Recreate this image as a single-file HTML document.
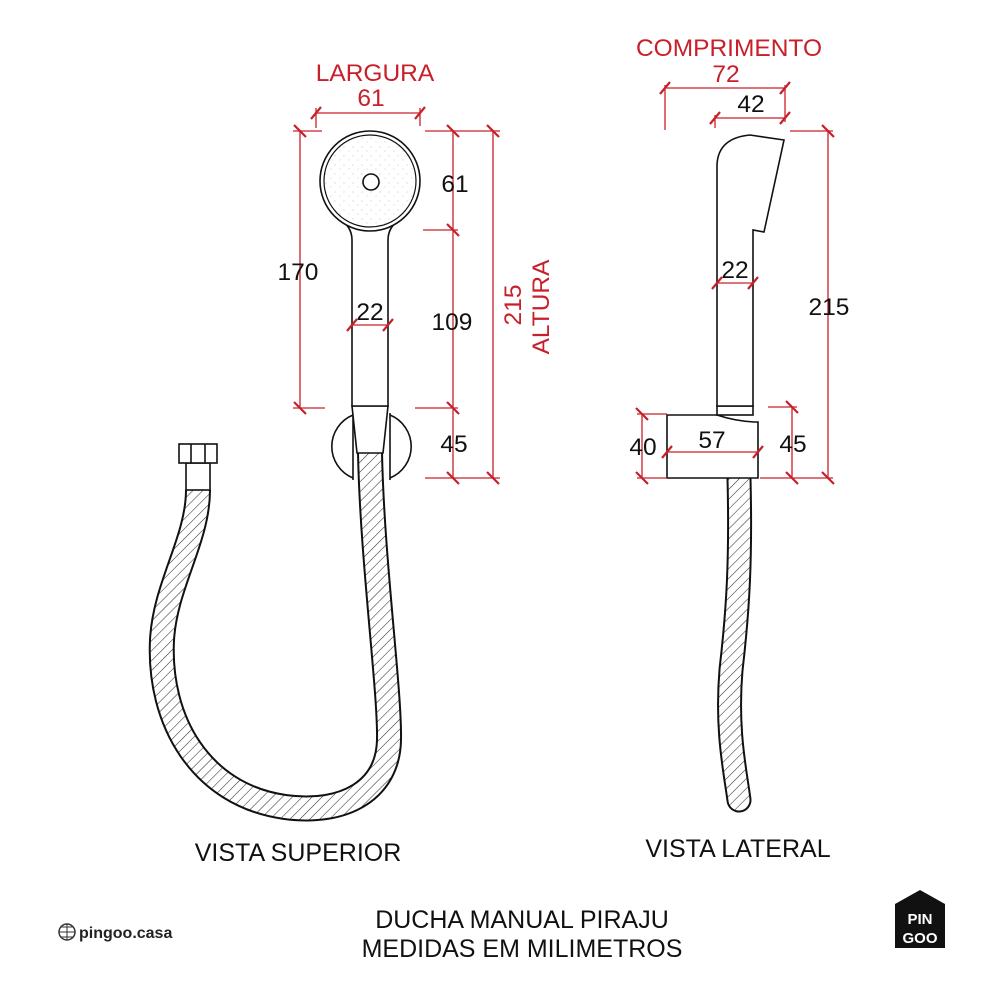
<!DOCTYPE html>
<html><head><meta charset="utf-8"><style>
html,body{margin:0;padding:0;background:#fff;}
svg{display:block;}
text{font-family:"Liberation Sans",Arial,sans-serif;}
</style></head><body>
<svg width="1000" height="1000" viewBox="0 0 1000 1000" xmlns="http://www.w3.org/2000/svg">
<defs>
<pattern id="h" patternUnits="userSpaceOnUse" width="7" height="7" patternTransform="rotate(45)">
<rect width="7" height="7" fill="#fff"/><line x1="0" y1="0" x2="0" y2="7" stroke="#333" stroke-width="1.1"/>
</pattern>
<pattern id="dots" patternUnits="userSpaceOnUse" width="9" height="9">
<rect width="9" height="9" fill="#fff"/><circle cx="2" cy="3" r="0.5" fill="#aaa"/><circle cx="7" cy="7" r="0.5" fill="#bbb"/>
</pattern>
</defs>
<g fill="none" stroke="#111" stroke-width="1.6">
<path d="M198,490 C198,540 165,585 162,640 C158,720 200,795 285,807 C345,815 388,790 389,740 C390,690 372,560 370,452" stroke="#111" stroke-width="26" stroke-linecap="butt"/>
<path d="M198,490 C198,540 165,585 162,640 C158,720 200,795 285,807 C345,815 388,790 389,740 C390,690 372,560 370,452" stroke="url(#h)" stroke-width="22"/>
<rect x="186" y="463" width="24" height="27" fill="#fff"/>
<rect x="179" y="444" width="38" height="19" fill="#fff"/>
<line x1="191" y1="444" x2="191" y2="463"/><line x1="205" y1="444" x2="205" y2="463"/>
<path d="M353,415 A34,34 0 0,0 353,478" fill="#fff"/>
<path d="M390,415 A34,34 0 0,1 390,478" fill="#fff"/>
<line x1="353" y1="413" x2="353" y2="480"/><line x1="390" y1="413" x2="390" y2="480"/>
<path d="M352,406 L388,406 L383,453 L357,453 Z" fill="#fff"/>
<path d="M352,406 L352,240 Q352,226 338,218 L402,218 Q388,226 388,240 L388,406 Z" fill="#fff"/>
<circle cx="370" cy="181" r="50" fill="#fff"/>
<circle cx="370" cy="181" r="46" fill="url(#dots)" stroke-width="1.2"/>
<circle cx="371" cy="182" r="8" fill="#fff"/>

<path d="M739,478 C741,560 738,610 731,670 C726,730 735,770 739,800" stroke="#111" stroke-width="25" stroke-linecap="round"/>
<path d="M739,478 C741,560 738,610 731,670 C726,730 735,770 739,800" stroke="url(#h)" stroke-width="21" stroke-linecap="round"/>
<path d="M667,415 L717,415 Q735,421 754,422 L758,422 L758,478 L667,478 Z" fill="#fff"/>
<rect x="717" y="406" width="36" height="9" fill="#fff"/>
<path d="M717,406 L717,165 Q718,138 750,135 L784,140 L764,232 L753,230 L753,406 Z" fill="#fff"/>
</g>

<g stroke="#c8202a" stroke-width="1.3" fill="none">
<line x1="316" y1="113" x2="420" y2="113"/>
<line x1="316" y1="108" x2="316" y2="128"/><line x1="420" y1="108" x2="420" y2="126"/>
<line x1="300" y1="131" x2="300" y2="408"/>
<line x1="293" y1="131" x2="322" y2="131"/><line x1="293" y1="408" x2="325" y2="408"/>
<line x1="453" y1="131" x2="453" y2="478"/>
<line x1="425" y1="131" x2="500" y2="131"/><line x1="423" y1="230" x2="458" y2="230"/>
<line x1="415" y1="408" x2="458" y2="408"/><line x1="425" y1="478" x2="500" y2="478"/>
<line x1="493" y1="131" x2="493" y2="478"/>
<line x1="352" y1="325" x2="388" y2="325"/>
<line x1="665" y1="88" x2="785" y2="88"/>
<line x1="665" y1="85" x2="665" y2="130"/><line x1="785" y1="85" x2="785" y2="122"/>
<line x1="715" y1="118" x2="785" y2="118"/><line x1="715" y1="115" x2="715" y2="128"/>
<line x1="828" y1="131" x2="828" y2="478"/>
<line x1="790" y1="131" x2="833" y2="131"/><line x1="760" y1="478" x2="833" y2="478"/>
<line x1="792" y1="407" x2="792" y2="478"/><line x1="768" y1="407" x2="797" y2="407"/>
<line x1="642" y1="414" x2="642" y2="478"/><line x1="637" y1="414" x2="667" y2="414"/><line x1="637" y1="478" x2="667" y2="478"/>
<line x1="667" y1="452" x2="758" y2="452"/>
<line x1="717" y1="283" x2="753" y2="283"/>
</g>
<g stroke="#c8202a" stroke-width="2.2">
<path d="M311,119L321,107 M415,119L425,107 M347,331L357,319 M383,331L393,319 M660,94L670,82 M780,94L790,82 M710,124L720,112 M780,124L790,112 M662,458L672,446 M753,458L763,446 M712,289L722,277 M748,289L758,277"/>
<path d="M294,125L306,137 M294,402L306,414 M447,125L459,137 M447,224L459,236 M447,402L459,414 M447,472L459,484 M487,125L499,137 M487,472L499,484 M822,125L834,137 M822,472L834,484 M786,401L798,413 M786,472L798,484 M636,408L648,420 M636,472L648,484"/>
</g>

<g fill="#c8202a" font-size="24.5" text-anchor="middle">
<text x="375" y="81">LARGURA</text>
<text x="371" y="106">61</text>
<text x="729" y="56">COMPRIMENTO</text>
<text x="726" y="82">72</text>
<text transform="translate(521,305) rotate(-90)">215</text>
<text transform="translate(549,307) rotate(-90)">ALTURA</text>
</g>
<g fill="#111" font-size="24.5" text-anchor="middle">
<text x="455" y="192">61</text>
<text x="298" y="280">170</text>
<text x="452" y="330">109</text>
<text x="454" y="452">45</text>
<text x="370" y="320">22</text>
<text x="751" y="112">42</text>
<text x="735" y="278">22</text>
<text x="829" y="315">215</text>
<text x="793" y="452">45</text>
<text x="643" y="455">40</text>
<text x="712" y="448">57</text>
</g>
<g fill="#111" font-size="25" text-anchor="middle">
<text x="298" y="861">VISTA SUPERIOR</text>
<text x="738" y="857">VISTA LATERAL</text>
<text x="522" y="928">DUCHA MANUAL PIRAJU</text>
<text x="522" y="957">MEDIDAS EM MILIMETROS</text>
</g>

<g>
<circle cx="67" cy="932" r="8" fill="none" stroke="#333" stroke-width="1.5"/>
<path d="M59,932H75 M67,924V940 M61,927H73 M61,937H73" stroke="#333" stroke-width="1"/>
<text x="79" y="938" font-size="16" font-weight="bold" fill="#222">pingoo.casa</text>
</g>
<path d="M895,904 L920,890 L945,904 L945,948 L895,948 Z" fill="#111"/>
<text x="920" y="924" font-size="15" font-weight="bold" fill="#fff" text-anchor="middle">PIN</text>
<text x="920" y="943" font-size="15" font-weight="bold" fill="#fff" text-anchor="middle">GOO</text>
</svg>
</body></html>
